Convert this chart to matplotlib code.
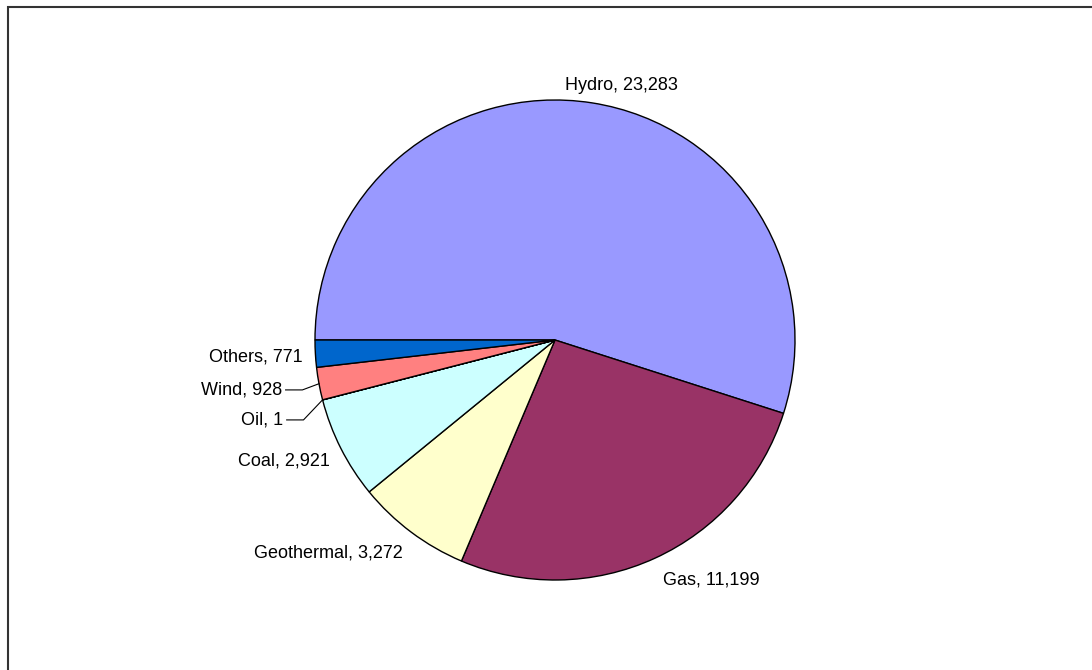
import numpy as np
import matplotlib.pyplot as plt
from matplotlib.patches import Rectangle

# valeurs
sources = ["Hydro", "Gas", "Geothermal", "Coal", "Oil", "Wind", "Others"]
values = [23283, 11199, 3272, 2921, 1, 928, 771]
colors = ["#9999FF", "#993366", "#FFFFCC", "#CCFFFF", "#660066", "#FF8080", "#0066CC"]

plt.rcParams['font.family'] = ['Liberation Sans', 'DejaVu Sans']

fig = plt.figure(figsize=(10.92, 6.70), dpi=100)
W, H = 1092, 670
cx, cy, half = 555, 670 - 340, 300
ax = fig.add_axes([(cx - half) / W, (cy - half) / H, 2 * half / W, 2 * half / H])
ax.set_xlim(-1.25, 1.25)
ax.set_ylim(-1.25, 1.25)
ax.set_aspect('equal')
ax.axis('off')

wedges, _ = ax.pie(values, colors=colors, startangle=180, counterclock=False,
                   radius=1.0, wedgeprops=dict(edgecolor='black', linewidth=1))

# position des étiquettes (comme dans Excel, placées à la main)
label_pos = {
    "Hydro": (0.277, 1.0625, 'center'),
    "Gas": (0.45, -1.0, 'left'),
    "Geothermal": (-0.633, -0.8875, 'right'),
    "Coal": (-0.9375, -0.504, 'right'),
    "Oil": (-1.133, -0.333, 'right'),
    "Wind": (-1.1375, -0.208, 'right'),
    "Others": (-1.05, -0.071, 'right'),
}

for w, name, v in zip(wedges, sources, values):
    tx, ty, ha = label_pos[name]
    ax.text(tx, ty, f"{name}, {v:,}", ha=ha, va='center', fontsize=13)
    if name in ("Oil", "Wind"):
        # trait de rappel vers le bord de la part
        mid = np.deg2rad((w.theta1 + w.theta2) / 2)
        ex, ey = np.cos(mid), np.sin(mid)
        ax.plot([tx + 0.015, tx + 0.085, ex], [ty, ty, ey], color='black', lw=0.8)

# cadre
fig.patches.append(Rectangle((8 / W, -0.1), 1.2, (670 - 7) / H + 0.1, transform=fig.transFigure,
                             fill=False, edgecolor='#333333', linewidth=1.5))

plt.savefig('out.png', dpi=100)
